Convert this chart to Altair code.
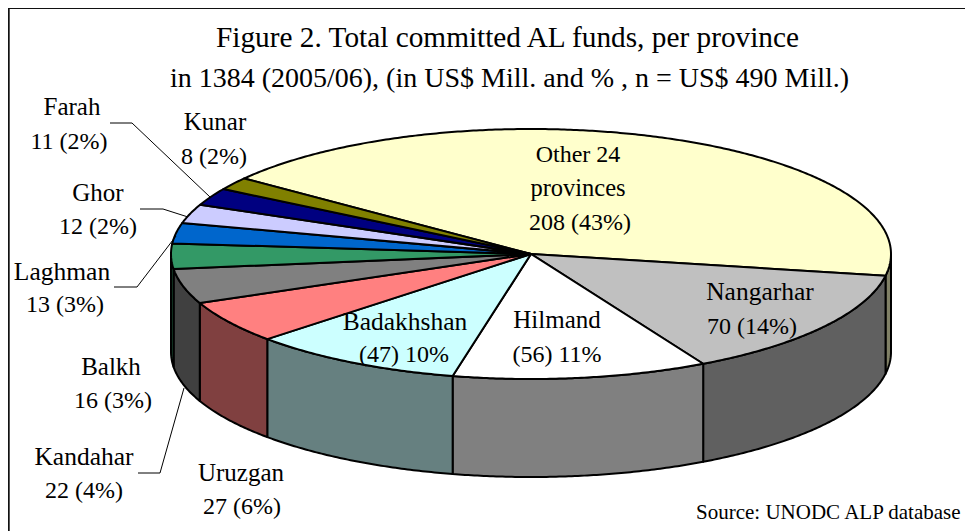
import math
import altair as alt
import pandas as pd

# ---- chart values ----
provinces = ["Other 24 provinces", "Nangarhar", "Hilmand", "Badakhshan", "Uruzgan", "Kandahar",
             "Balkh", "Laghman", "Ghor", "Farah", "Kunar"]
funds = [208, 70, 56, 47, 27, 22, 16, 13, 12, 11, 8]
top_colors = ["#FFFFCC", "#C0C0C0", "#FFFFFF", "#CCFFFF", "#FF8080", "#808080",
              "#339966", "#0066CC", "#CCCCFF", "#000080", "#808000"]
wall_colors = ["#808066", "#606060", "#808080", "#668080", "#804040", "#404040",
               "#1A4D33", "#003366", "#666680", "#000040", "#404000"]

# ---- label text ----
title_lines = ["Figure 2. Total committed AL funds, per province",
               "in 1384 (2005/06), (in US$ Mill. and % , n = US$ 490 Mill.)"]
labels = ["Farah", "11 (2%)", "Kunar", "8 (2%)", "Ghor", "12 (2%)", "Laghman", "13 (3%)",
          "Balkh", "16 (3%)", "Kandahar", "22 (4%)", "Uruzgan", "27 (6%)", "Other 24", "provinces",
          "208 (43%)", "Nangarhar", "70 (14%)", "Hilmand", "(56) 11%", "Badakhshan", "(47) 10%"]
label_x = [72, 69, 215, 214, 98, 98, 62, 65, 111, 113, 84, 84, 241, 242, 578, 578, 580, 760, 752, 557, 557, 405, 404]
label_y = [107, 142, 122, 157, 193, 227, 272, 305, 367, 401, 457, 491, 473, 507, 155, 189, 223, 292, 327, 320, 355, 322, 355]
label_size = [25, 24, 25, 24, 25, 24, 25.5, 24, 25, 24, 25.5, 24, 25, 24, 24, 24.5, 24, 25.5, 24, 25, 24, 25.5, 24]

# ---- layout of the drawing (page pixels) ----
W, H = 957, 523
CX, CY, A, B, DEPTH = 531, 254, 360, 125, 98
OTHER_END = 10.0
FONT = "Liberation Serif"

xs = alt.Scale(domain=[8, 8 + W], range=[0, W], nice=False, zero=False)
ys = alt.Scale(domain=[8, 8 + H], range=[0, H], nice=False, zero=False)
X = lambda: alt.X("x:Q", scale=xs, axis=None)
Y = lambda: alt.Y("y:Q", scale=ys, axis=None)


def ell(t, dy=0.0):
    r = math.radians(t)
    return CX + A * math.cos(r), CY + B * math.sin(r) + dy


def arc(t1, t2, dy=0.0):
    n = max(2, int(abs(t2 - t1) / 0.5))
    return [ell(t1 + (t2 - t1) * i / n, dy) for i in range(n + 1)]


def poly(pts, fill, sw=2.0):
    df = pd.DataFrame({"x": [p[0] for p in pts], "y": [p[1] for p in pts], "i": range(len(pts))})
    return alt.Chart(df).mark_line(fill=fill, stroke="black", strokeWidth=sw, strokeJoin="round",
                                   clip=False).encode(x=X(), y=Y(), order="i:Q")


total = sum(funds)
angles = []
t = OTHER_END - funds[0] / total * 360
for v in funds:
    angles.append((t, t + v / total * 360))
    t += v / total * 360

layers = []
# frame: only the top and left edges show in the picture
frame = [(8.7, 531), (8.7, 8), (973, 8)]
fdf = pd.DataFrame({"x": [p[0] for p in frame], "y": [p[1] for p in frame], "i": range(3)})
layers.append(alt.Chart(fdf).mark_line(stroke="#111111", strokeWidth=2).encode(x=X(), y=Y(), order="i:Q"))

# walls: only the parts of each slice facing the viewer
for (t1, t2), c in zip(angles, wall_colors):
    for lo, hi in ((t1, t2), (t1 + 360, t2 + 360), (t1 - 360, t2 - 360)):
        a, b = max(lo, 0), min(hi, 180)
        if b > a:
            pts = arc(a, b) + arc(b, a, DEPTH)
            layers.append(poly(pts + pts[:1], c))
# tops
for (t1, t2), c in zip(angles, top_colors):
    pts = [(CX, CY)] + arc(t1, t2) + [(CX, CY)]
    layers.append(poly(pts, c))

# leader lines
leaders = [[(110, 123), (132, 123), (210, 197)],
           [(140, 209), (163, 209), (188, 217)],
           [(114, 287), (137, 287), (176, 236)],
           [(138, 473), (160, 473), (184, 388)]]
for L in leaders:
    df = pd.DataFrame({"x": [p[0] for p in L], "y": [p[1] for p in L], "i": range(3)})
    layers.append(alt.Chart(df).mark_line(stroke="black", strokeWidth=1).encode(x=X(), y=Y(), order="i:Q"))

# texts
ldf = pd.DataFrame({"x": label_x, "y": label_y, "t": labels, "s": label_size})
for size in sorted(set(label_size)):
    layers.append(alt.Chart(ldf[ldf.s == size]).mark_text(font=FONT, fontSize=size, color="black",
                                                          baseline="middle", align="center"
                                                          ).encode(x=X(), y=Y(), text="t:N"))
for line, px, py, size in zip(title_lines, [507.5, 509.5], [38, 79], [29.3, 28]):
    tdf = pd.DataFrame({"x": [px], "y": [py], "t": [line]})
    layers.append(alt.Chart(tdf).mark_text(font=FONT, fontSize=size, color="black", baseline="middle",
                                           align="center").encode(x=X(), y=Y(), text="t:N"))
sdf = pd.DataFrame({"x": [696], "y": [513], "t": ["Source: UNODC ALP database"]})
layers.append(alt.Chart(sdf).mark_text(font=FONT, fontSize=21, color="black", baseline="middle",
                                       align="left").encode(x=X(), y=Y(), text="t:N"))

chart = alt.layer(*layers).properties(width=W, height=H, padding=0,
                                      autosize=alt.AutoSizeParams(type="none")
                                      ).configure_view(stroke=None).configure(background="white")
chart.save("out.html", embed_options={"renderer": "svg", "actions": False})
